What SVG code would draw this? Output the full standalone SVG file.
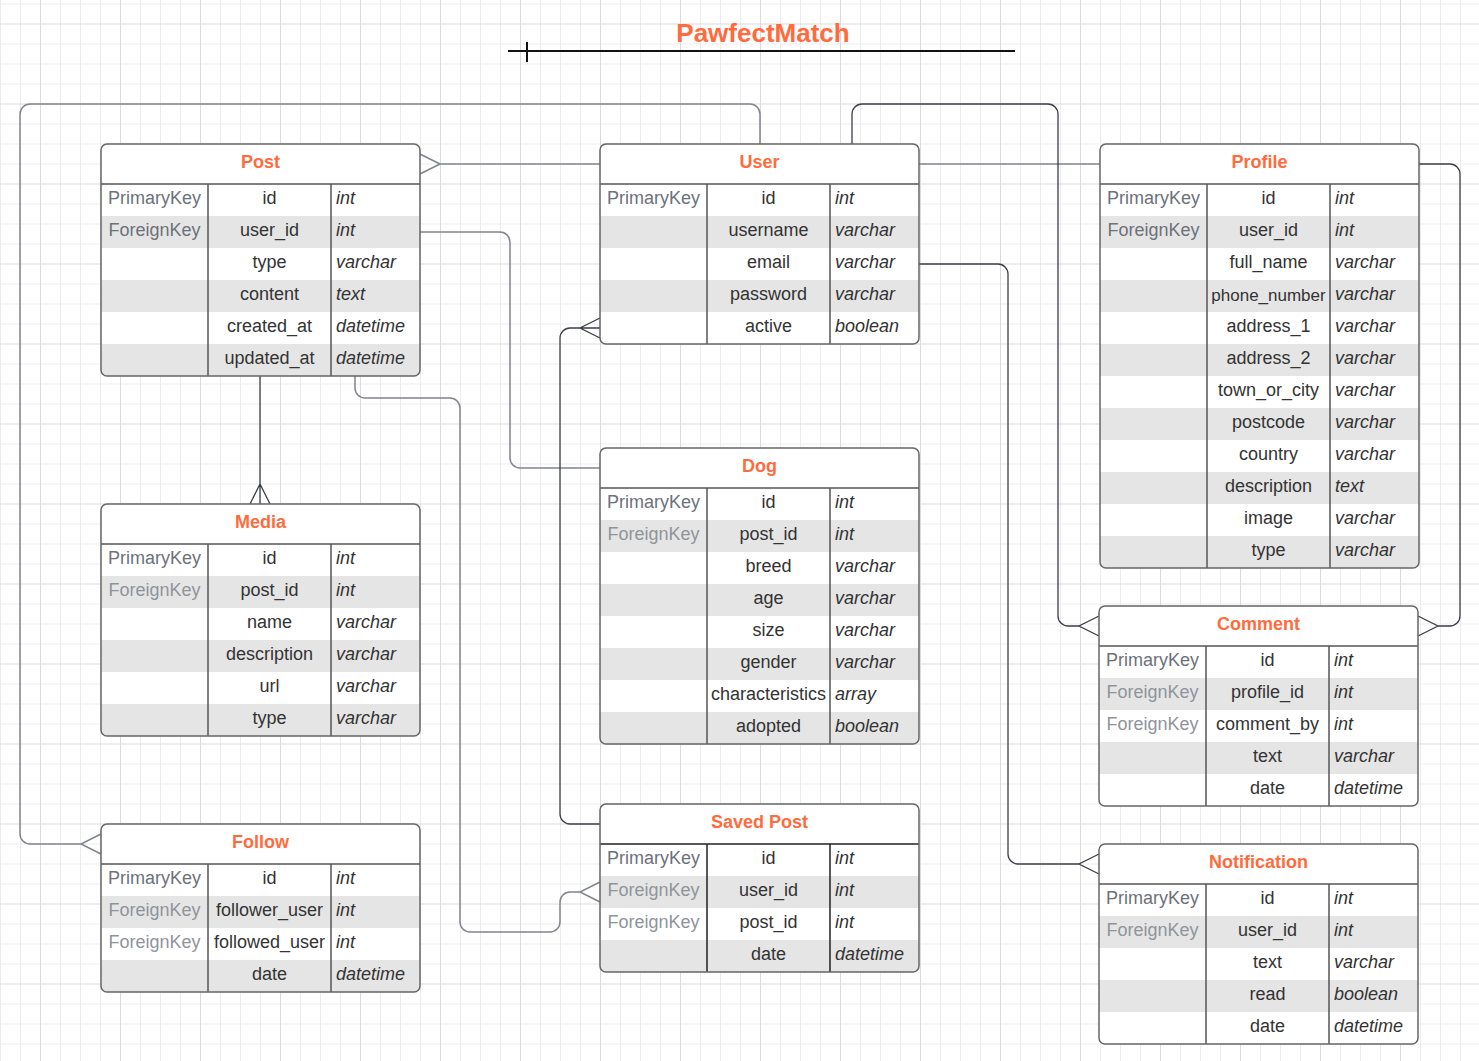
<svg xmlns="http://www.w3.org/2000/svg" width="1479" height="1061" viewBox="0 0 1479 1061">
<defs>
<pattern id="grid" patternUnits="userSpaceOnUse" x="40" y="23.5" width="80" height="80">
<path d="M20.5,0V80M40.5,0V80M60.5,0V80M0,20.5H80M0,40.5H80M0,60.5H80" stroke="#ececec" stroke-width="1" fill="none"/>
<path d="M0.5,0V80M0,0.5H80" stroke="#dadada" stroke-width="1" fill="none"/>
</pattern>
</defs>
<style>
.bg{fill:#fff}
.g{fill:#e5e5e5}
.ln{stroke:#555;stroke-width:1.5;fill:none}
.bd{fill:none;stroke:#666;stroke-width:1.5}
text{font-family:"Liberation Sans",Arial,sans-serif;font-size:18px}
.h{font-weight:bold;fill:#ff6b3d;text-anchor:middle}
.k{fill:#6c717a;text-anchor:middle}
.f{fill:#8f949b;text-anchor:middle}
.c{fill:#333;text-anchor:middle}
.t{fill:#333;font-style:italic}
.cg{stroke:#80858c;stroke-width:1.5;fill:none}
.cd{stroke:#3a3f47;stroke-width:1.3;fill:none}
</style>
<rect width="1479" height="1061" fill="#fff"/>
<rect width="1479" height="1061" fill="url(#grid)"/>

<g id="title">
<text x="763" y="42" style="font-size:26px;font-weight:bold;fill:#ff6b3d;text-anchor:middle">PawfectMatch</text>
<path d="M508,51H1015M527,42V62" stroke="#111" stroke-width="2" fill="none"/>
</g>

<g id="connectors">
<path class="cg" d="M600,164H440M440,164L420,154M440,164L420,174"/>
<path class="cg" d="M919,164H1100"/>
<path class="cg" d="M420,232H500A10,10 0 0 1 510,242V458A10,10 0 0 0 520,468H600"/>
<path class="cd" d="M580,328H570A10,10 0 0 0 560,338V814A10,10 0 0 0 570,824H600M600,318L580,328L600,338M580,328H600"/>
<path class="cg" d="M355,376V388A10,10 0 0 0 365,398H450A10,10 0 0 1 460,408V922A10,10 0 0 0 470,932H550A10,10 0 0 0 560,922V902A10,10 0 0 1 570,892H580M600,882L580,892L600,902"/>
<path class="cg" d="M81,844H30A10,10 0 0 1 20,834V114A10,10 0 0 1 30,104H750A10,10 0 0 1 760,114V144M101,834L81,844L101,854"/>
<path class="cd" d="M852,144V114A10,10 0 0 1 862,104H1048A10,10 0 0 1 1058,114V616A10,10 0 0 0 1068,626H1079M1099,616L1079,626L1099,636"/>
<path class="cd" d="M919,264H998A10,10 0 0 1 1008,274V854A10,10 0 0 0 1018,864H1079M1099,854L1079,864L1099,874"/>
<path class="cd" d="M1419,164H1450A10,10 0 0 1 1460,174V616A10,10 0 0 1 1450,626H1438M1418,616L1438,626L1418,636"/>
<path class="cd" d="M260,376V504M250,504L260,484L270,504"/>
</g>

<g id="post" transform="translate(101,144)">
<rect class="bg" width="319" height="232" rx="6"/>
<rect class="g" y="72" width="319" height="32"/>
<rect class="g" y="136" width="319" height="32"/>
<path class="g" d="M0,200H319V226A6,6 0 0 1 313,232H6A6,6 0 0 1 0,226Z"/>
<path class="ln" d="M0,40H319M107,40V232M230,40V232"/>
<rect class="bd" width="319" height="232" rx="6"/>
<text class="h" x="159.5" y="24">Post</text>
<text class="k" x="53.5" y="60">PrimaryKey</text><text class="c" x="168.5" y="60">id</text><text class="t" x="235" y="60">int</text>
<text class="k" x="53.5" y="92">ForeignKey</text><text class="c" x="168.5" y="92">user_id</text><text class="t" x="235" y="92">int</text>
<text class="c" x="168.5" y="124">type</text><text class="t" x="235" y="124">varchar</text>
<text class="c" x="168.5" y="156">content</text><text class="t" x="235" y="156">text</text>
<text class="c" x="168.5" y="188">created_at</text><text class="t" x="235" y="188">datetime</text>
<text class="c" x="168.5" y="220">updated_at</text><text class="t" x="235" y="220">datetime</text>
</g>

<g id="user" transform="translate(600,144)">
<rect class="bg" width="319" height="200" rx="6"/>
<rect class="g" y="72" width="319" height="32"/>
<rect class="g" y="136" width="319" height="32"/>
<path class="ln" d="M0,40H319M107,40V200M230,40V200"/>
<rect class="bd" width="319" height="200" rx="6"/>
<text class="h" x="159.5" y="24">User</text>
<text class="k" x="53.5" y="60">PrimaryKey</text><text class="c" x="168.5" y="60">id</text><text class="t" x="235" y="60">int</text>
<text class="c" x="168.5" y="92">username</text><text class="t" x="235" y="92">varchar</text>
<text class="c" x="168.5" y="124">email</text><text class="t" x="235" y="124">varchar</text>
<text class="c" x="168.5" y="156">password</text><text class="t" x="235" y="156">varchar</text>
<text class="c" x="168.5" y="188">active</text><text class="t" x="235" y="188">boolean</text>
</g>

<g id="profile" transform="translate(1100,144)">
<rect class="bg" width="319" height="424" rx="6"/>
<rect class="g" y="72" width="319" height="32"/>
<rect class="g" y="136" width="319" height="32"/>
<rect class="g" y="200" width="319" height="32"/>
<rect class="g" y="264" width="319" height="32"/>
<rect class="g" y="328" width="319" height="32"/>
<path class="g" d="M0,392H319V418A6,6 0 0 1 313,424H6A6,6 0 0 1 0,418Z"/>
<path class="ln" d="M0,40H319M107,40V424M230,40V424"/>
<rect class="bd" width="319" height="424" rx="6"/>
<text class="h" x="159.5" y="24">Profile</text>
<text class="k" x="53.5" y="60">PrimaryKey</text><text class="c" x="168.5" y="60">id</text><text class="t" x="235" y="60">int</text>
<text class="k" x="53.5" y="92">ForeignKey</text><text class="c" x="168.5" y="92">user_id</text><text class="t" x="235" y="92">int</text>
<text class="c" x="168.5" y="124">full_name</text><text class="t" x="235" y="124">varchar</text>
<text class="c" x="168.5" y="157" style="font-size:17px">phone_number</text><text class="t" x="235" y="156">varchar</text>
<text class="c" x="168.5" y="188">address_1</text><text class="t" x="235" y="188">varchar</text>
<text class="c" x="168.5" y="220">address_2</text><text class="t" x="235" y="220">varchar</text>
<text class="c" x="168.5" y="252">town_or_city</text><text class="t" x="235" y="252">varchar</text>
<text class="c" x="168.5" y="284">postcode</text><text class="t" x="235" y="284">varchar</text>
<text class="c" x="168.5" y="316">country</text><text class="t" x="235" y="316">varchar</text>
<text class="c" x="168.5" y="348">description</text><text class="t" x="235" y="348">text</text>
<text class="c" x="168.5" y="380">image</text><text class="t" x="235" y="380">varchar</text>
<text class="c" x="168.5" y="412">type</text><text class="t" x="235" y="412">varchar</text>
</g>

<g id="media" transform="translate(101,504)">
<rect class="bg" width="319" height="232" rx="6"/>
<rect class="g" y="72" width="319" height="32"/>
<rect class="g" y="136" width="319" height="32"/>
<path class="g" d="M0,200H319V226A6,6 0 0 1 313,232H6A6,6 0 0 1 0,226Z"/>
<path class="ln" d="M0,40H319M107,40V232M230,40V232"/>
<rect class="bd" width="319" height="232" rx="6"/>
<text class="h" x="159.5" y="24">Media</text>
<text class="k" x="53.5" y="60">PrimaryKey</text><text class="c" x="168.5" y="60">id</text><text class="t" x="235" y="60">int</text>
<text class="f" x="53.5" y="92">ForeignKey</text><text class="c" x="168.5" y="92">post_id</text><text class="t" x="235" y="92">int</text>
<text class="c" x="168.5" y="124">name</text><text class="t" x="235" y="124">varchar</text>
<text class="c" x="168.5" y="156">description</text><text class="t" x="235" y="156">varchar</text>
<text class="c" x="168.5" y="188">url</text><text class="t" x="235" y="188">varchar</text>
<text class="c" x="168.5" y="220">type</text><text class="t" x="235" y="220">varchar</text>
</g>

<g id="dog" transform="translate(600,448)">
<rect class="bg" width="319" height="296" rx="6"/>
<rect class="g" y="72" width="319" height="32"/>
<rect class="g" y="136" width="319" height="32"/>
<rect class="g" y="200" width="319" height="32"/>
<path class="g" d="M0,264H319V290A6,6 0 0 1 313,296H6A6,6 0 0 1 0,290Z"/>
<path class="ln" d="M0,40H319M107,40V296M230,40V296"/>
<rect class="bd" width="319" height="296" rx="6"/>
<text class="h" x="159.5" y="24">Dog</text>
<text class="k" x="53.5" y="60">PrimaryKey</text><text class="c" x="168.5" y="60">id</text><text class="t" x="235" y="60">int</text>
<text class="f" x="53.5" y="92">ForeignKey</text><text class="c" x="168.5" y="92">post_id</text><text class="t" x="235" y="92">int</text>
<text class="c" x="168.5" y="124">breed</text><text class="t" x="235" y="124">varchar</text>
<text class="c" x="168.5" y="156">age</text><text class="t" x="235" y="156">varchar</text>
<text class="c" x="168.5" y="188">size</text><text class="t" x="235" y="188">varchar</text>
<text class="c" x="168.5" y="220">gender</text><text class="t" x="235" y="220">varchar</text>
<text class="c" x="168.5" y="252">characteristics</text><text class="t" x="235" y="252">array</text>
<text class="c" x="168.5" y="284">adopted</text><text class="t" x="235" y="284">boolean</text>
</g>

<g id="follow" transform="translate(101,824)">
<rect class="bg" width="319" height="168" rx="6"/>
<rect class="g" y="72" width="319" height="32"/>
<path class="g" d="M0,136H319V162A6,6 0 0 1 313,168H6A6,6 0 0 1 0,162Z"/>
<path class="ln" d="M0,40H319M107,40V168M230,40V168"/>
<rect class="bd" width="319" height="168" rx="6"/>
<text class="h" x="159.5" y="24">Follow</text>
<text class="k" x="53.5" y="60">PrimaryKey</text><text class="c" x="168.5" y="60">id</text><text class="t" x="235" y="60">int</text>
<text class="f" x="53.5" y="92">ForeignKey</text><text class="c" x="168.5" y="92">follower_user</text><text class="t" x="235" y="92">int</text>
<text class="f" x="53.5" y="124">ForeignKey</text><text class="c" x="168.5" y="124">followed_user</text><text class="t" x="235" y="124">int</text>
<text class="c" x="168.5" y="156">date</text><text class="t" x="235" y="156">datetime</text>
</g>

<g id="saved-post" transform="translate(600,804)">
<rect class="bg" width="319" height="168" rx="6"/>
<rect class="g" y="72" width="319" height="32"/>
<path class="g" d="M0,136H319V162A6,6 0 0 1 313,168H6A6,6 0 0 1 0,162Z"/>
<path class="ln" d="M0,40H319M107,40V168M230,40V168" style="stroke:#222"/>
<rect class="bd" width="319" height="168" rx="6"/>
<text class="h" x="159.5" y="24">Saved Post</text>
<text class="k" x="53.5" y="60">PrimaryKey</text><text class="c" x="168.5" y="60">id</text><text class="t" x="235" y="60">int</text>
<text class="f" x="53.5" y="92">ForeignKey</text><text class="c" x="168.5" y="92">user_id</text><text class="t" x="235" y="92">int</text>
<text class="f" x="53.5" y="124">ForeignKey</text><text class="c" x="168.5" y="124">post_id</text><text class="t" x="235" y="124">int</text>
<text class="c" x="168.5" y="156">date</text><text class="t" x="235" y="156">datetime</text>
</g>

<g id="comment" transform="translate(1099,606)">
<rect class="bg" width="319" height="200" rx="6"/>
<rect class="g" y="72" width="319" height="32"/>
<rect class="g" y="136" width="319" height="32"/>
<path class="ln" d="M0,40H319M107,40V200M230,40V200"/>
<rect class="bd" width="319" height="200" rx="6"/>
<text class="h" x="159.5" y="24">Comment</text>
<text class="k" x="53.5" y="60">PrimaryKey</text><text class="c" x="168.5" y="60">id</text><text class="t" x="235" y="60">int</text>
<text class="f" x="53.5" y="92">ForeignKey</text><text class="c" x="168.5" y="92">profile_id</text><text class="t" x="235" y="92">int</text>
<text class="f" x="53.5" y="124">ForeignKey</text><text class="c" x="168.5" y="124">comment_by</text><text class="t" x="235" y="124">int</text>
<text class="c" x="168.5" y="156">text</text><text class="t" x="235" y="156">varchar</text>
<text class="c" x="168.5" y="188">date</text><text class="t" x="235" y="188">datetime</text>
</g>

<g id="notification" transform="translate(1099,844)">
<rect class="bg" width="319" height="200" rx="6"/>
<rect class="g" y="72" width="319" height="32"/>
<rect class="g" y="136" width="319" height="32"/>
<path class="ln" d="M0,40H319M107,40V200M230,40V200"/>
<rect class="bd" width="319" height="200" rx="6"/>
<text class="h" x="159.5" y="24">Notification</text>
<text class="k" x="53.5" y="60">PrimaryKey</text><text class="c" x="168.5" y="60">id</text><text class="t" x="235" y="60">int</text>
<text class="f" x="53.5" y="92">ForeignKey</text><text class="c" x="168.5" y="92">user_id</text><text class="t" x="235" y="92">int</text>
<text class="c" x="168.5" y="124">text</text><text class="t" x="235" y="124">varchar</text>
<text class="c" x="168.5" y="156">read</text><text class="t" x="235" y="156">boolean</text>
<text class="c" x="168.5" y="188">date</text><text class="t" x="235" y="188">datetime</text>
</g>
</svg>
